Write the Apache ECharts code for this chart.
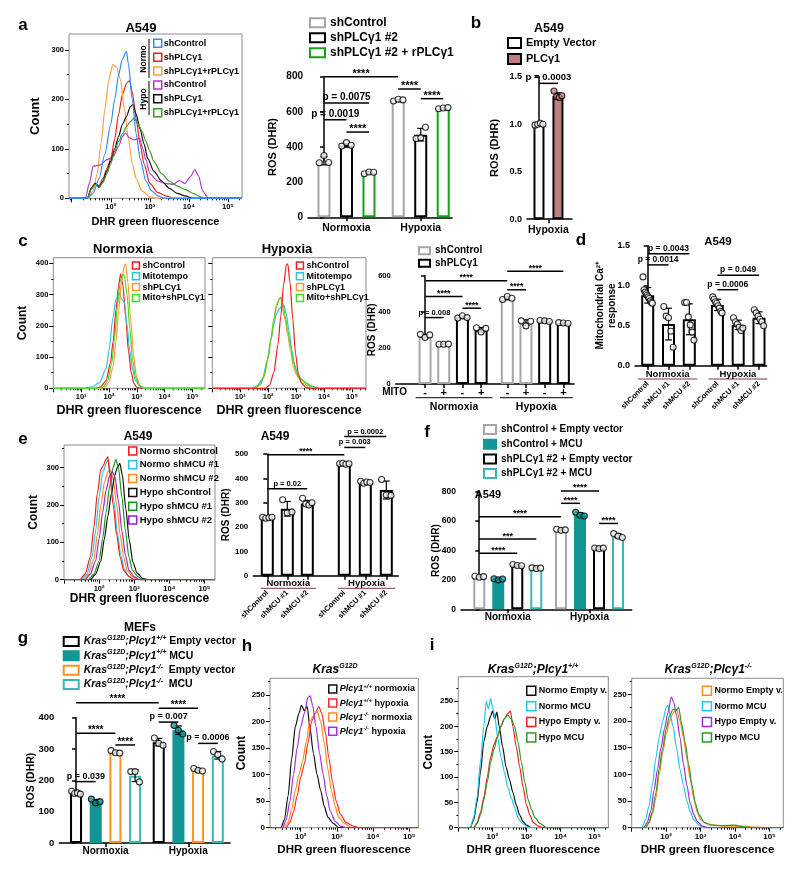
<!DOCTYPE html>
<html><head><meta charset="utf-8"><title>ROS figure</title>
<script src="https://cdn.jsdelivr.net/npm/echarts@6/dist/echarts.min.js"></script>
<style>html,body{margin:0;padding:0;background:#fff;}#chart{width:800px;height:873px;}</style>
</head><body><div id="chart"></div>
<script>
// ================= DATA =================
// Histograms: [log10(DHR fluorescence), count]
// panel a
const aH_n_shControl=[[0.93,0],[1.4,0],[1.55,10],[1.7,40],[1.85,90],[2.0,150],[2.1,200],[2.2,250],[2.3,282],[2.4,297],[2.45,272],[2.55,200],[2.65,130],[2.75,80],[2.9,35],[3.05,15],[3.2,5],[3.35,0],[5.36,0]];
const aH_n_shPLC=[[0.93,0],[1.4,0],[1.5,20],[1.6,30],[1.7,25],[1.8,40],[1.9,60],[2.0,80],[2.1,120],[2.2,170],[2.3,210],[2.4,232],[2.48,238],[2.55,215],[2.65,160],[2.75,110],[2.85,70],[3.0,30],[3.2,12],[3.4,5],[3.6,0],[5.36,0]];
const aH_n_rescue=[[0.93,0],[1.4,0],[1.55,15],[1.65,50],[1.75,110],[1.85,180],[1.95,240],[2.05,270],[2.15,265],[2.25,240],[2.35,180],[2.45,120],[2.55,70],[2.65,40],[2.8,15],[3.0,3],[3.2,0],[5.36,0]];
const aH_h_shControl=[[0.93,0],[1.35,0],[1.45,30],[1.55,65],[1.72,67],[1.9,78],[2.06,84],[2.2,105],[2.3,125],[2.38,132],[2.48,122],[2.6,118],[2.74,121],[2.82,100],[2.9,78],[3.0,50],[3.2,35],[3.4,30],[3.6,28],[3.75,36],[3.9,30],[4.05,45],[4.15,58],[4.25,45],[4.35,15],[4.5,0],[5.36,0]];
const aH_h_shPLC=[[0.93,0],[1.4,0],[1.5,20],[1.6,30],[1.7,22],[1.8,35],[1.9,55],[2.0,75],[2.1,100],[2.2,125],[2.3,150],[2.4,165],[2.5,185],[2.57,190],[2.65,170],[2.75,140],[2.85,110],[2.95,80],[3.1,55],[3.3,35],[3.5,20],[3.7,10],[3.9,5],[4.1,0],[5.36,0]];
const aH_h_rescue=[[0.93,0],[1.4,0],[1.5,18],[1.6,28],[1.7,22],[1.8,32],[1.9,50],[2.0,70],[2.1,95],[2.2,115],[2.3,130],[2.4,145],[2.5,155],[2.6,162],[2.7,150],[2.8,135],[2.9,115],[3.0,95],[3.1,75],[3.3,50],[3.5,35],[3.7,25],[3.9,18],[4.1,10],[4.3,3],[4.4,0],[5.36,0]];
// panel c
const cH_n_shControl=[[0,0],[1.5,0],[1.7,5],[1.9,25],[2.05,80],[2.15,150],[2.25,250],[2.35,330],[2.42,366],[2.5,330],[2.6,230],[2.7,120],[2.8,50],[2.9,15],[3.0,3],[3.2,0],[5.45,0]];
const cH_n_mito=[[0,0],[1.1,0],[1.4,5],[1.66,18],[1.9,64],[2.0,120],[2.14,224],[2.25,285],[2.38,305],[2.45,285],[2.56,275],[2.65,200],[2.75,120],[2.85,60],[2.95,25],[3.1,8],[3.3,0],[5.45,0]];
const cH_n_shPLC=[[0,0],[1.7,0],[1.85,5],[2.0,20],[2.15,70],[2.25,150],[2.35,250],[2.45,340],[2.55,390],[2.6,398],[2.68,340],[2.78,220],[2.88,110],[2.98,40],[3.1,10],[3.25,0],[5.45,0]];
const cH_n_mitoPLC=[[0,0],[1.6,0],[1.8,5],[1.95,25],[2.1,80],[2.2,160],[2.3,260],[2.4,340],[2.5,365],[2.55,360],[2.65,300],[2.75,190],[2.85,90],[2.95,35],[3.1,8],[3.25,0],[5.45,0]];
const cH_h_shControl=[[0,0],[1.9,0],[2.05,10],[2.2,50],[2.35,140],[2.45,230],[2.55,330],[2.65,395],[2.7,398],[2.78,340],[2.88,220],[2.98,110],[3.08,45],[3.2,15],[3.35,3],[3.5,0],[5.5,0]];
const cH_h_mito=[[0,0],[1.4,0],[1.6,8],[1.8,30],[1.95,85],[2.1,155],[2.2,205],[2.3,240],[2.4,255],[2.5,262],[2.56,267],[2.65,235],[2.75,180],[2.85,120],[2.95,75],[3.05,45],[3.2,28],[3.4,14],[3.6,6],[3.8,0],[5.5,0]];
const cH_h_shPLC=[[0,0],[1.5,0],[1.7,10],[1.85,35],[2.0,95],[2.1,155],[2.2,215],[2.3,262],[2.4,285],[2.45,290],[2.5,265],[2.6,220],[2.7,170],[2.8,120],[2.9,70],[3.0,45],[3.1,32],[3.2,20],[3.4,8],[3.6,0],[5.5,0]];
const cH_h_mitoPLC=[[0,0],[1.5,0],[1.7,10],[1.85,40],[2.0,100],[2.1,160],[2.2,220],[2.3,268],[2.4,288],[2.46,291],[2.52,275],[2.6,235],[2.7,185],[2.8,135],[2.9,85],[3.0,55],[3.1,35],[3.2,28],[3.35,18],[3.5,8],[3.7,0],[5.5,0]];
// panel e
const eH_n_shControl=[[1.0,0],[1.45,0],[1.6,15],[1.75,60],[1.85,140],[1.95,230],[2.05,295],[2.12,305],[2.2,322],[2.25,328],[2.3,285],[2.4,200],[2.5,120],[2.6,60],[2.7,25],[2.85,8],[3.0,0],[5.3,0]];
const eH_n_mcu1=[[1.0,0],[1.5,0],[1.65,15],[1.8,60],[1.9,130],[2.0,220],[2.1,285],[2.2,310],[2.25,320],[2.32,290],[2.42,210],[2.52,125],[2.62,65],[2.72,28],[2.85,8],[3.0,0],[5.3,0]];
const eH_n_mcu2=[[1.0,0],[1.55,0],[1.7,15],[1.85,55],[1.95,120],[2.05,200],[2.15,260],[2.25,288],[2.32,293],[2.4,270],[2.5,200],[2.6,120],[2.7,60],[2.8,25],[2.95,8],[3.1,0],[5.3,0]];
const eH_h_shControl=[[1.0,0],[1.75,0],[1.9,15],[2.05,50],[2.15,110],[2.25,170],[2.35,230],[2.45,280],[2.52,300],[2.59,311],[2.66,280],[2.76,190],[2.86,105],[2.96,48],[3.08,18],[3.25,3],[3.4,0],[5.3,0]];
const eH_h_mcu1=[[1.0,0],[1.7,0],[1.85,15],[2.0,50],[2.1,110],[2.2,180],[2.3,250],[2.4,300],[2.48,321],[2.55,300],[2.65,220],[2.75,130],[2.85,60],[2.95,25],[3.1,8],[3.25,0],[5.3,0]];
const eH_h_mcu2=[[1.0,0],[1.6,0],[1.75,15],[1.9,50],[2.0,110],[2.1,180],[2.2,240],[2.3,278],[2.38,289],[2.45,275],[2.55,210],[2.65,130],[2.75,65],[2.85,25],[3.0,8],[3.15,0],[5.3,0]];
// panel h
const hH_wt_norm=[[1.15,0],[1.45,0],[1.55,15],[1.65,60],[1.75,130],[1.85,190],[1.95,215],[2.02,230],[2.1,220],[2.18,228],[2.25,190],[2.35,140],[2.45,100],[2.55,70],[2.65,40],[2.75,20],[2.9,8],[3.05,0],[5.25,0]];
const hH_wt_hyp=[[1.15,0],[1.6,0],[1.7,10],[1.8,30],[1.9,60],[2.0,95],[2.1,120],[2.2,160],[2.3,200],[2.4,215],[2.5,228],[2.58,215],[2.68,180],[2.78,130],[2.88,85],[2.98,50],[3.1,25],[3.25,10],[3.45,3],[3.6,0],[5.25,0]];
const hH_ko_norm=[[1.15,0],[1.55,0],[1.65,10],[1.75,35],[1.85,70],[1.95,100],[2.05,125],[2.15,160],[2.25,200],[2.35,210],[2.45,220],[2.55,200],[2.65,160],[2.75,110],[2.85,70],[2.95,40],[3.05,20],[3.2,8],[3.4,0],[5.25,0]];
const hH_ko_hyp=[[1.15,0],[1.5,0],[1.6,15],[1.7,50],[1.8,100],[1.9,150],[2.0,190],[2.1,215],[2.2,245],[2.26,248],[2.33,230],[2.42,190],[2.52,140],[2.62,100],[2.72,60],[2.82,30],[2.95,12],[3.1,3],[3.25,0],[5.25,0]];
// panel i (left: Plcg1 +/+, right: Plcg1 -/-)
const iL_normEV=[[1.0,0],[1.35,0],[1.45,15],[1.55,50],[1.65,110],[1.75,170],[1.85,200],[1.95,220],[2.0,230],[2.07,215],[2.13,228],[2.2,200],[2.3,160],[2.4,120],[2.5,95],[2.6,70],[2.7,45],[2.8,25],[2.9,12],[3.0,5],[3.15,0],[5.4,0]];
const iL_normMCU=[[1.0,0],[1.35,0],[1.45,20],[1.55,60],[1.65,130],[1.75,200],[1.82,250],[1.88,235],[1.95,255],[2.0,240],[2.08,215],[2.15,180],[2.25,140],[2.35,110],[2.45,80],[2.55,60],[2.65,40],[2.75,20],[2.85,10],[3.0,3],[3.1,0],[5.4,0]];
const iL_hypEV=[[1.0,0],[1.45,0],[1.55,10],[1.65,30],[1.75,60],[1.85,100],[1.95,140],[2.05,165],[2.15,180],[2.25,200],[2.35,215],[2.45,225],[2.53,230],[2.6,200],[2.7,160],[2.8,120],[2.9,80],[3.0,45],[3.1,25],[3.2,10],[3.35,3],[3.5,0],[5.4,0]];
const iL_hypMCU=[[1.0,0],[1.45,0],[1.55,8],[1.65,25],[1.75,55],[1.85,90],[1.95,130],[2.05,155],[2.15,180],[2.25,200],[2.35,215],[2.45,222],[2.55,215],[2.65,200],[2.75,170],[2.85,130],[2.95,90],[3.05,55],[3.15,35],[3.25,20],[3.4,8],[3.6,0],[5.4,0]];
const iR_normEV=[[1.0,0],[1.4,0],[1.5,8],[1.6,25],[1.7,55],[1.8,100],[1.9,140],[2.0,175],[2.1,200],[2.2,215],[2.3,222],[2.4,200],[2.5,170],[2.6,130],[2.7,90],[2.8,55],[2.9,30],[3.0,15],[3.15,8],[3.4,5],[3.8,3],[4.2,3],[4.6,1],[5.0,0],[5.4,0]];
const iR_normMCU=[[1.0,0],[1.3,0],[1.4,15],[1.5,40],[1.6,80],[1.7,130],[1.8,170],[1.9,200],[2.0,225],[2.05,230],[2.12,210],[2.2,190],[2.3,150],[2.4,110],[2.5,80],[2.6,50],[2.7,30],[2.8,15],[2.95,5],[3.1,0],[5.4,0]];
const iR_hypEV=[[1.0,0],[1.35,0],[1.45,10],[1.55,30],[1.65,70],[1.75,110],[1.85,150],[1.95,185],[2.05,215],[2.15,245],[2.22,235],[2.3,210],[2.4,170],[2.5,120],[2.6,80],[2.7,45],[2.8,25],[2.9,12],[3.05,3],[3.2,0],[5.4,0]];
const iR_hypMCU=[[1.0,0],[1.4,0],[1.5,10],[1.6,30],[1.7,65],[1.8,110],[1.9,150],[2.0,185],[2.1,210],[2.2,222],[2.3,220],[2.36,226],[2.45,195],[2.55,160],[2.65,120],[2.75,80],[2.85,45],[2.95,25],[3.1,10],[3.3,5],[3.6,4],[4.0,5],[4.2,2],[4.5,0],[5.4,0]];

// Bar charts: means and individual points (per condition group)
const aB_groups=['Normoxia','Hypoxia'];
const aB_shControl_mean=[322,665], aB_shControl_dots=[[310,352,312],[662,672,668]];
const aB_shPLC_mean=[410,470],     aB_shPLC_dots=[[405,425,410],[448,452,512]];
const aB_rescue_mean=[255,620],    aB_rescue_dots=[[248,258,256],[618,622,624]];

const bB_groups=['Hypoxia'];
const bB_EV_mean=[1.0],  bB_EV_dots=[[0.99,1.0,1.01,1.0]];
const bB_PLC_mean=[1.3], bB_PLC_dots=[[1.35,1.29,1.28,1.3]];

const cB_mito=['-','+','-','+','-','+','-','+'];
const cB_groups=['Normoxia','Hypoxia'];
const cB_shControl_mean=[265,220,475,340], cB_shControl_dots=[[275,258,272],[220,220,221],[468,485,475],[350,322,348]];
const cB_shPLC_mean=[370,300,350,337],     cB_shPLC_dots=[[365,378,368],[312,288,308],[352,350,346],[340,338,335]];

const dB_labels=['shControl','shMCU #1','shMCU #2','shControl','shMCU #1','shMCU #2'];
const dB_groups=['Normoxia','Hypoxia'];
const dB_mean=[0.88,0.52,0.58,0.76,0.51,0.60];
const dB_dots=[[1.11,0.95,0.92,0.90,0.88,0.86,0.84,0.81,0.79,0.78],[0.74,0.62,0.60,0.43,0.23],[0.79,0.79,0.61,0.51,0.42,0.32],[0.86,0.83,0.80,0.78,0.75,0.72,0.68,0.66],[0.60,0.55,0.52,0.48,0.44,0.47],[0.70,0.66,0.62,0.58,0.55,0.50]];

const eB_labels=['shControl','shMCU #1','shMCU #2','shControl','shMCU #1','shMCU #2'];
const eB_groups=['Normoxia','Hypoxia'];
const eB_mean=[238,275,297,460,383,352];
const eB_dots=[[240,236,238,240],[312,258,262],[318,295,290,300],[460,462,458,460],[388,380,385,383],[395,332,330]];

const fB_groups=['Normoxia','Hypoxia'];
const fB_ctrlEV_mean=[222,540],  fB_ctrlEV_dots=[[225,218,222],[545,537,540]];
const fB_ctrlMCU_mean=[205,645], fB_ctrlMCU_dots=[[208,200,206],[660,640,635]];
const fB_plcEV_mean=[300,415],   fB_plcEV_dots=[[305,298,296],[417,413,416]];
const fB_plcMCU_mean=[280,500],  fB_plcMCU_dots=[[282,277,280],[515,498,488]];

const gB_groups=['Normoxia','Hypoxia'];
const gB_wtEV_mean=[160,322],  gB_wtEV_dots=[[165,158,160,156],[335,318,312]];
const gB_wtMCU_mean=[133,360], gB_wtMCU_dots=[[140,128,132],[375,360,348]];
const gB_koEV_mean=[290,233],  gB_koEV_dots=[[295,288,287],[238,232,230]];
const gB_koMCU_mean=[215,280], gB_koMCU_dots=[[228,228,195],[292,282,268]];

// Significance annotations: [from bar, to bar, y value, text] (bar = index into slot list)
const aSig=[[0,3,800,'****'],[0,2,650,'p = 0.0075'],[0,1,555,'p = 0.0019'],[1,2,485,'****'],[3,4,730,'****'],[4,5,675,'****']];
const bSig=[[0,1,1.43,'p = 0.0003']];
const cSig=[[0,4,572,'****'],[4,7,624,'****'],[0,2,485,'****'],[2,3,420,'****'],[0,1,368,'p = 0.008'],[4,5,522,'****']];
const dSig=[[0,2,1.40,'p = 0.0043'],[0,1,1.26,'p = 0.0014'],[3,5,1.13,'p = 0.049'],[3,4,0.95,'p = 0.0006']];
const eSig=[[0,3,497,'****'],[0,2,357,'p = 0.02'],[3,4,527,'p = 0.003'],[3,5,572,'p = 0.0002']];
const fSig=[[0,2,381,'****'],[0,3,478,'***'],[0,4,630,'****'],[4,5,721,'****'],[4,6,805,'****'],[6,7,584,'****']];
const gSig=[[0,4,448,'****'],[4,6,430,'****'],[4,5,386,'p = 0.007'],[0,2,350,'****'],[2,3,313,'****'],[6,7,318,'p = 0.0006'],[0,1,196,'p = 0.039']];

// ================= BUILD =================
const F='"Liberation Sans", Arial, Helvetica, sans-serif';
const SUP=['\u2070','\u00b9','\u00b2','\u00b3','\u2074','\u2075'];
const grids=[],xAxes=[],yAxes=[],series=[],legends=[],graphics=[];
const LABELS={};
function rich(sz){return {
  i:{fontFamily:F,fontWeight:'bold',fontStyle:'italic',fontSize:sz,lineHeight:sz+3,color:'#000'},
  s:{fontFamily:F,fontWeight:'bold',fontStyle:'italic',fontSize:Math.round(sz*0.62),lineHeight:Math.round(sz*0.62)+1,verticalAlign:'top',color:'#000'},
  n:{fontFamily:F,fontWeight:'bold',fontSize:sz,lineHeight:sz+3,color:'#000'}};}
function mean(a){return a.reduce((s,v)=>s+v,0)/a.length;}
function sd(a){const m=mean(a);return Math.sqrt(a.reduce((s,v)=>s+(v-m)*(v-m),0)/(a.length-1));}

function addLegend(p,items,iconStyle){
  items.forEach(c=>{LABELS[c.id]=c.label;});
  legends.push({orient:'vertical',left:p.leg[0],top:p.leg[1],itemGap:p.leg[2],itemWidth:p.leg[3],itemHeight:p.leg[4],
    icon:'rect',selectedMode:false,padding:0,
    data:items.map(c=>({name:c.id,itemStyle:iconStyle(c)})),
    formatter:n=>LABELS[n],
    textStyle:{fontFamily:F,fontWeight:'bold',fontSize:p.leg[5],color:'#000',padding:[0,0,0,p.leg[6]||0],rich:rich(p.leg[5])}});
}

function histPanel(p){
  const gi=grids.length;
  grids.push({left:p.box[0],top:p.box[1],width:p.box[2],height:p.box[3],show:true,borderColor:'#8c8c8c',borderWidth:1,backgroundColor:'transparent'});
  const majT=[0,1,2,3,4,5].filter(v=>v>=p.xr[0]&&v<=p.xr[1]);
  const minors=[];
  for(let d=0;d<6;d++)for(let k=2;k<10;k++){const v=d+Math.log10(k);if(v>p.xr[0]&&v<p.xr[1])minors.push(v);}
  const xi=xAxes.length;
  xAxes.push({type:'value',gridIndex:gi,position:'bottom',min:p.xr[0],max:p.xr[1],splitLine:{show:false},axisLine:{show:false},
    axisTick:{customValues:majT,length:4,lineStyle:{color:'#000',width:1}},
    axisLabel:{customValues:p.xl,formatter:v=>'10'+SUP[Math.round(v)],fontFamily:F,fontWeight:'bold',fontSize:p.tf,color:'#000',margin:5},
    name:'DHR green fluorescence',nameLocation:'middle',nameGap:p.xg,nameMoveOverlap:false,nameTextStyle:{fontFamily:F,fontWeight:'bold',fontSize:p.xs,color:'#000'}});
  xAxes.push({type:'value',gridIndex:gi,position:'bottom',min:p.xr[0],max:p.xr[1],splitLine:{show:false},axisLine:{show:false},
    axisLabel:{show:false},axisTick:{customValues:minors,length:2,lineStyle:{color:'#000',width:1}}});
  const yi=yAxes.length;
  yAxes.push({type:'value',gridIndex:gi,position:'left',min:0,max:p.ymax,splitLine:{show:false},axisLine:{show:false},
    axisTick:{customValues:p.yt,length:4,lineStyle:{color:'#000'}},
    axisLabel:{show:p.yl!==false,customValues:p.yt,fontFamily:F,fontWeight:'bold',fontSize:p.tf,color:'#000',margin:5},
    name:p.yn||'',nameLocation:'middle',nameGap:p.yg||20,nameMoveOverlap:false,nameTextStyle:{fontFamily:F,fontWeight:'bold',fontSize:p.ys||12,color:'#000'}});
  const step=p.yt[1]-p.yt[0], ym=[];
  p.yt.forEach(v=>{if(v+step/2<p.ymax)ym.push(v+step/2);});
  yAxes.push({type:'value',gridIndex:gi,position:'left',min:0,max:p.ymax,splitLine:{show:false},axisLine:{show:false},
    axisLabel:{show:false},axisTick:{customValues:ym,length:2,lineStyle:{color:'#000'}}});
  p.curves.forEach(c=>{
    series.push({type:'line',name:c.id,xAxisIndex:xi,yAxisIndex:yi,data:c.data,symbol:'none',showSymbol:false,smooth:0.25,smoothMonotone:'x',
      lineStyle:{color:c.color,width:1.2},itemStyle:{color:c.color},z:2+(c.z||0),silent:true,animation:false});
  });
  addLegend(p,p.curves,c=>({color:'#fff',borderColor:c.color,borderWidth:1.5}));
}

function barPanel(p){
  const gi=grids.length;
  grids.push({left:p.box[0],top:p.box[1],width:p.box[2],height:p.box[3]});
  const xi=xAxes.length, yi=yAxes.length;
  const unit=p.box[2]/(p.xr[1]-p.xr[0]);
  xAxes.push({type:'value',gridIndex:gi,position:'bottom',min:p.xr[0],max:p.xr[1],splitLine:{show:false},
    axisLine:{show:true,onZero:false,lineStyle:{color:'#000',width:1.5}},
    axisTick:{customValues:p.xt.v,length:4,lineStyle:{color:'#000',width:1.5}},
    axisLabel:{customValues:p.xt.v,formatter:v=>{let b=0;p.xt.v.forEach((c,k)=>{if(Math.abs(c-v)<Math.abs(p.xt.v[b]-v))b=k;});return p.xt.l[b];},
      rotate:p.xt.r||0,margin:p.xt.m,fontFamily:F,fontWeight:'bold',fontSize:p.xt.s,color:'#000'}});
  yAxes.push({type:'value',gridIndex:gi,position:'left',min:p.yr[0],max:p.yr[1],interval:p.yr[2],splitLine:{show:false},
    axisLine:{show:true,lineStyle:{color:'#000',width:1.5}},axisTick:{show:true,length:4,lineStyle:{color:'#000',width:1.5}},
    axisLabel:{fontFamily:F,fontWeight:'bold',fontSize:p.tf,color:'#000',margin:5,formatter:p.yf||(v=>String(v))},
    name:p.yn,nameLocation:'middle',nameGap:p.yg,nameMoveOverlap:false,nameTextStyle:{fontFamily:F,fontWeight:'bold',fontSize:p.ys,color:'#000',lineHeight:p.ys+2}});
  p.groups.forEach(g=>{
    series.push({type:'bar',name:g.id,xAxisIndex:xi,yAxisIndex:yi,barWidth:p.bw,barGap:'-100%',
      data:g.pos.map((x,i)=>[x,g.mean[i]]),itemStyle:{color:g.fill,borderColor:g.color,borderWidth:2},z:2,silent:true,animation:false});
    const eb=g.pos.map((x,i)=>{const s=sd(g.dots[i]);return [x,g.mean[i]-s,g.mean[i]+s];});
    series.push({type:'custom',xAxisIndex:xi,yAxisIndex:yi,data:eb,z:3,silent:true,clip:false,animation:false,
      renderItem:(pa,api)=>{const a=api.coord([api.value(0),api.value(1)]),b=api.coord([api.value(0),api.value(2)]);
        return {type:'group',children:[
          {type:'line',shape:{x1:a[0],y1:a[1],x2:b[0],y2:b[1]},style:{stroke:'#000',lineWidth:1.2}},
          {type:'line',shape:{x1:b[0]-3.5,y1:b[1],x2:b[0]+3.5,y2:b[1]},style:{stroke:'#000',lineWidth:1.2}},
          {type:'line',shape:{x1:a[0]-3.5,y1:a[1],x2:a[0]+3.5,y2:a[1]},style:{stroke:'#000',lineWidth:1.2}}]};}});
    const spread=(p.bw*0.36)/unit, pts=[];
    g.pos.forEach((x,i)=>{const d=g.dots[i];d.forEach((v,j)=>pts.push([x+(d.length>1?-spread+2*spread*j/(d.length-1):0),v]));});
    series.push({type:'scatter',xAxisIndex:xi,yAxisIndex:yi,data:pts,symbol:'circle',symbolSize:p.ds||6,
      itemStyle:{color:g.fill,borderColor:'#000',borderWidth:1.1},z:4,silent:true,animation:false});
  });
  if(p.sig){
    series.push({type:'custom',xAxisIndex:xi,yAxisIndex:yi,data:p.sig.map(s=>[p.slots[s[0]],s[2],p.slots[s[1]]]),clip:false,z:5,silent:true,animation:false,
      renderItem:(pa,api)=>{const s=p.sig[pa.dataIndex];const a=api.coord([p.slots[s[0]],s[2]]),b=api.coord([p.slots[s[1]],s[2]]);
        const star=s[3].charAt(0)==='*';
        return {type:'group',children:[
          {type:'line',shape:{x1:a[0],y1:a[1],x2:b[0],y2:b[1]},style:{stroke:'#000',lineWidth:1.5}},
          {type:'text',x:(a[0]+b[0])/2,y:star?a[1]-3:a[1]-1,style:{text:s[3],fontFamily:F,fontWeight:'bold',fontSize:star?p.sf+1:p.sf,fill:'#000',align:'center',verticalAlign:star?'middle':'bottom'}}]};}});
  }
  if(p.under){
    series.push({type:'custom',xAxisIndex:xi,yAxisIndex:yi,data:p.under.map(u=>[u[0],p.yr[0],u[1]]),clip:false,z:5,silent:true,animation:false,
      renderItem:(pa,api)=>{const u=p.under[pa.dataIndex];const a=api.coord([u[0],p.yr[0]]),b=api.coord([u[1],p.yr[0]]);
        return {type:'group',children:[
          {type:'line',shape:{x1:a[0],y1:a[1]+p.uy[0],x2:b[0],y2:b[1]+p.uy[0]},style:{stroke:p.uc||'#000',lineWidth:1}},
          {type:'text',x:(a[0]+b[0])/2,y:a[1]+p.uy[1],style:{text:u[2],fontFamily:F,fontWeight:'bold',fontSize:p.us,fill:'#000',align:'center',verticalAlign:'middle'}}]};}});
  }
  if(p.leg) addLegend(p,p.groups,g=>({color:g.fill,borderColor:g.color,borderWidth:2}));
}

// ---------- colours ----------
const C={blue:'#2b8cff',red:'#f41c1c',orange:'#ffa040',purple:'#b23cc8',black:'#111111',green:'#2e9a2e',
  cyan:'#2fc2dc',lgreen:'#44dd22',gray:'#a6a6a6',barGreen:'#19a019',rose:'#bd7f7f',teal:'#129595',tealB:'#3bb5b5',bOrange:'#f7941d'};

// ---------- panel a histogram ----------
histPanel({box:[69,34,173,164.3],xr:[0.93,5.36],ymax:332,yt:[0,100,200,300],xl:[2,3,4,5],tf:7.5,
  yn:'Count',yg:27,ys:13,xg:18,xs:11,leg:[153,38.5,4.4,8,8,9,-3],
  curves:[
    {id:'aH1',label:'shControl',color:C.blue,data:aH_n_shControl,z:1},
    {id:'aH2',label:'shPLC\u03b31',color:C.red,data:aH_n_shPLC},
    {id:'aH3',label:'shPLC\u03b31+rPLC\u03b31',color:C.orange,data:aH_n_rescue},
    {id:'aH4',label:'shControl',color:C.purple,data:aH_h_shControl},
    {id:'aH5',label:'shPLC\u03b31',color:C.black,data:aH_h_shPLC},
    {id:'aH6',label:'shPLC\u03b31+rPLC\u03b31',color:'#3c9a28',data:aH_h_rescue}]});

// ---------- panel a bars ----------
const aSlots=[0,1,2,3.3,4.3,5.3];
barPanel({box:[308,76.7,144,140.6],xr:[-0.71,5.69],yr:[0,800,200],tf:10,yn:'ROS (DHR)',yg:29,ys:11,bw:13,sf:10,
  slots:aSlots,sig:aSig,
  xt:{v:[1,4.3],l:aB_groups,s:10.5,m:5},
  leg:[309,16.7,3,15,9,12],
  groups:[
    {id:'aB1',label:'shControl',color:C.gray,fill:'#fff',pos:[aSlots[0],aSlots[3]],mean:aB_shControl_mean,dots:aB_shControl_dots},
    {id:'aB2',label:'shPLC\u03b31 #2',color:'#000',fill:'#fff',pos:[aSlots[1],aSlots[4]],mean:aB_shPLC_mean,dots:aB_shPLC_dots},
    {id:'aB3',label:'shPLC\u03b31 #2 + rPLC\u03b31',color:C.barGreen,fill:'#fff',pos:[aSlots[2],aSlots[5]],mean:aB_rescue_mean,dots:aB_rescue_dots}]});

// ---------- panel b ----------
const bSlots=[0,1];
barPanel({box:[527,76.7,45,142.5],xr:[-0.63,1.74],yr:[0,1.5,0.5],tf:9,yf:v=>v.toFixed(1),yn:'ROS (DHR)',yg:26,ys:11,bw:11,sf:9.5,
  slots:bSlots,sig:bSig,
  xt:{v:[0.5],l:bB_groups,s:10.5,m:5},
  leg:[507,37,4,13,10,11],
  groups:[
    {id:'bB1',label:'Empty Vector',color:'#000',fill:'#fff',pos:[bSlots[0]],mean:bB_EV_mean,dots:bB_EV_dots},
    {id:'bB2',label:'PLC\u03b31',color:'#000',fill:C.rose,pos:[bSlots[1]],mean:bB_PLC_mean,dots:bB_PLC_dots}]});

// ---------- panel c histograms ----------
histPanel({box:[53.3,257.7,151.7,130.6],xr:[0,5.45],ymax:418,yt:[0,100,200,300,400],xl:[1,2,3,4,5],tf:7.5,
  yn:'Count',yg:25,ys:12,xg:15.5,xs:12.5,leg:[131.7,261,1.8,7,7,9,-2],
  curves:[
    {id:'cN1',label:'shControl',color:C.red,data:cH_n_shControl},
    {id:'cN2',label:'Mitotempo',color:C.cyan,data:cH_n_mito},
    {id:'cN3',label:'shPLC\u03b31',color:'#ff9a30',data:cH_n_shPLC},
    {id:'cN4',label:'Mito+shPLC\u03b31',color:C.lgreen,data:cH_n_mitoPLC}]});
histPanel({box:[212.3,257.7,153.7,130.6],xr:[0,5.5],ymax:418,yt:[0,100,200,300,400],xl:[1,2,3,4,5],tf:7.5,yl:false,
  xg:15.5,xs:12.5,leg:[295.7,261,1.8,7,7,9,-2],
  curves:[
    {id:'cH1',label:'shControl',color:C.red,data:cH_h_shControl,z:1},
    {id:'cH2',label:'Mitotempo',color:C.cyan,data:cH_h_mito},
    {id:'cH3',label:'shPLC\u03b31',color:'#ff9a30',data:cH_h_shPLC},
    {id:'cH4',label:'Mito+shPLC\u03b31',color:C.lgreen,data:cH_h_mitoPLC}]});

// ---------- panel c bars ----------
const cSlots=[0,1,2,3,4.4,5.4,6.4,7.4];
barPanel({box:[395.7,275.7,178.3,108.3],xr:[-1.57,7.97],yr:[0,600,200],tf:7.5,yn:'ROS (DHR)',yg:17,ys:10,bw:13,sf:7.5,
  slots:cSlots,sig:cSig,
  xt:{v:cSlots,l:cB_mito,s:11,m:3},
  under:[[-0.5,3.6,cB_groups[0]],[4.0,7.9,cB_groups[1]]],uy:[13.7,22.7],us:10.5,
  leg:[418,245.7,2.6,11,7,10],
  groups:[
    {id:'cB1',label:'shControl',color:C.gray,fill:'#fff',pos:[cSlots[0],cSlots[1],cSlots[4],cSlots[5]],mean:cB_shControl_mean,dots:cB_shControl_dots},
    {id:'cB2',label:'shPLC\u03b31',color:'#000',fill:'#fff',pos:[cSlots[2],cSlots[3],cSlots[6],cSlots[7]],mean:cB_shPLC_mean,dots:cB_shPLC_dots}]});

// ---------- panel d ----------
const dSlots=[0,1,2,3.35,4.35,5.35];
barPanel({box:[635,245.7,131.7,120],xr:[-0.61,5.72],yr:[0,1.5,0.5],tf:9,yf:v=>v.toFixed(1),yn:'Mitochondrial Ca\u00b2\u207a\nresponse',yg:17,ys:10,bw:13,sf:8.5,ds:6,
  slots:dSlots,sig:dSig,
  xt:{v:dSlots,l:dB_labels,s:7.5,m:17,r:45},
  under:[[-0.47,2.39,dB_groups[0]],[2.92,5.75,dB_groups[1]]],uy:[13.3,8.6],us:9.5,uc:'#7a3b3b',
  groups:[{id:'dB1',label:'',color:'#000',fill:'#fff',pos:dSlots,mean:dB_mean,dots:dB_dots}]});

// ---------- panel e histogram ----------
histPanel({box:[64,445,151,134.7],xr:[1.0,5.3],ymax:360,yt:[0,100,200,300],xl:[2,3,4,5],tf:7.5,
  yn:'Count',yg:24,ys:12,xg:12.5,xs:12,leg:[128,446,3.8,8,8,9.5,-2],
  curves:[
    {id:'eH1',label:'Normo shControl',color:C.red,data:eH_n_shControl,z:1},
    {id:'eH2',label:'Normo shMCU #1',color:'#28c8e8',data:eH_n_mcu1},
    {id:'eH3',label:'Normo shMCU #2',color:'#ff8a20',data:eH_n_mcu2},
    {id:'eH4',label:'Hypo shControl',color:C.black,data:eH_h_shControl},
    {id:'eH5',label:'Hypo shMCU #1',color:'#1a9a1a',data:eH_h_mcu1},
    {id:'eH6',label:'Hypo shMCU #2',color:'#a020d0',data:eH_h_mcu2}]});

// ---------- panel e bars ----------
const eSlots=[0,1,2,3.85,4.9,5.95];
barPanel({box:[253.3,454,145,121.7],xr:[-0.7,6.55],yr:[0,500,100],tf:8,yn:'ROS (DHR)',yg:21,ys:10,bw:13,sf:7.5,
  slots:eSlots,sig:eSig,
  xt:{v:eSlots,l:eB_labels,s:7.5,m:16,r:45},
  under:[[-0.33,2.43,eB_groups[0]],[3.53,6.4,eB_groups[1]]],uy:[12.6,7.3],us:9.5,uc:'#7a3b3b',
  groups:[{id:'eB1',label:'',color:'#000',fill:'#fff',pos:eSlots,mean:eB_mean,dots:eB_dots}]});

// ---------- panel f ----------
const fSlots=[0,1,2,3,4.3,5.3,6.3,7.3];
barPanel({box:[461,491.7,170.7,117.6],xr:[-0.96,8.02],yr:[0,800,200],tf:8.5,yn:'ROS (DHR)',yg:19,ys:10,bw:12,sf:8,
  slots:fSlots,sig:fSig,
  xt:{v:[1.5,5.8],l:fB_groups,s:10,m:3},
  leg:[483,424,3.7,12,9,10],
  groups:[
    {id:'fB1',label:'shControl + Empty vector',color:C.gray,fill:'#fff',pos:[fSlots[0],fSlots[4]],mean:fB_ctrlEV_mean,dots:fB_ctrlEV_dots},
    {id:'fB2',label:'shControl + MCU',color:C.teal,fill:C.teal,pos:[fSlots[1],fSlots[5]],mean:fB_ctrlMCU_mean,dots:fB_ctrlMCU_dots},
    {id:'fB3',label:'shPLC\u03b31 #2 + Empty vector',color:'#000',fill:'#fff',pos:[fSlots[2],fSlots[6]],mean:fB_plcEV_mean,dots:fB_plcEV_dots},
    {id:'fB4',label:'shPLC\u03b31 #2 + MCU',color:C.tealB,fill:'#fff',pos:[fSlots[3],fSlots[7]],mean:fB_plcMCU_mean,dots:fB_plcMCU_dots}]});

// ---------- panel g ----------
const gSlots=[0,1,2,3,4.2,5.2,6.2,7.2];
barPanel({box:[59.3,717.7,170.7,125.3],xr:[-0.85,7.82],yr:[0,400,100],tf:9.5,yn:'ROS (DHR)',yg:22,ys:10.5,bw:12,sf:9,
  slots:gSlots,sig:gSig,
  xt:{v:[1.5,5.7],l:gB_groups,s:10,m:3},
  leg:[62.7,634.7,2.1,15,9,10.5],
  groups:[
    {id:'gB1',label:'{i|Kras}{s|G12D}{i|;Plc\u03b31}{s|+/+}{n| Empty vector}',color:'#000',fill:'#fff',pos:[gSlots[0],gSlots[4]],mean:gB_wtEV_mean,dots:gB_wtEV_dots},
    {id:'gB2',label:'{i|Kras}{s|G12D}{i|;Plc\u03b31}{s|+/+}{n| MCU}',color:C.teal,fill:C.teal,pos:[gSlots[1],gSlots[5]],mean:gB_wtMCU_mean,dots:gB_wtMCU_dots},
    {id:'gB3',label:'{i|Kras}{s|G12D}{i|;Plc\u03b31}{s|-/-}{n|  Empty vector}',color:C.bOrange,fill:'#fff',pos:[gSlots[2],gSlots[6]],mean:gB_koEV_mean,dots:gB_koEV_dots},
    {id:'gB4',label:'{i|Kras}{s|G12D}{i|;Plc\u03b31}{s|-/-}{n|  MCU}',color:C.tealB,fill:'#fff',pos:[gSlots[3],gSlots[7]],mean:gB_koMCU_mean,dots:gB_koMCU_dots}]});

// ---------- panel h ----------
histPanel({box:[270,678.3,148.3,149.4],xr:[1.15,5.25],ymax:281,yt:[0,50,100,150,200,250],xl:[2,3,4,5],tf:8,
  yn:'Count',yg:22,ys:12,xg:16,xs:11.5,leg:[328,683,3.3,8,8,9,-2],
  curves:[
    {id:'hH1',label:'{i|Plc\u03b31}{s|+/+}{n| normoxia}',color:C.black,data:hH_wt_norm},
    {id:'hH2',label:'{i|Plc\u03b31}{s|+/+}{n| hypoxia}',color:'#ff2a2a',data:hH_wt_hyp},
    {id:'hH3',label:'{i|Plc\u03b31}{s|-/-}{n| normoxia}',color:'#ff8c1a',data:hH_ko_norm},
    {id:'hH4',label:'{i|Plc\u03b31}{s|-/-}{n| hypoxia}',color:'#a030e0',data:hH_ko_hyp}]});

// ---------- panel i ----------
histPanel({box:[458.3,676.7,150,151],xr:[1.0,5.4],ymax:298,yt:[0,50,100,150,200,250],xl:[2,3,4,5],tf:8,
  yn:'Count',yg:24,ys:12,xg:16,xs:11.5,leg:[526,685.5,5.1,9,9,9,-2],
  curves:[
    {id:'iL1',label:'Normo Empty v.',color:C.black,data:iL_normEV},
    {id:'iL2',label:'Normo MCU',color:'#1ec8f0',data:iL_normMCU},
    {id:'iL3',label:'Hypo Empty v.',color:'#f02020',data:iL_hypEV},
    {id:'iL4',label:'Hypo MCU',color:'#2a9a2a',data:iL_hypMCU}]});
histPanel({box:[631.7,678.3,151.6,149.4],xr:[1.0,5.4],ymax:280,yt:[0,50,100,150,200,250],xl:[2,3,4,5],tf:8,
  xg:16,xs:11.5,leg:[701.7,685.5,5.1,9,9,9,-2],
  curves:[
    {id:'iR1',label:'Normo Empty v.',color:'#ff8c1a',data:iR_normEV},
    {id:'iR2',label:'Normo MCU',color:'#1ec8f0',data:iR_normMCU},
    {id:'iR3',label:'Hypo Empty v.',color:'#9a30d0',data:iR_hypEV},
    {id:'iR4',label:'Hypo MCU',color:'#2a9a2a',data:iR_hypMCU}]});

// ---------- text decorations ----------
function T(x,y,text,size,extra){graphics.push(Object.assign({type:'text',x:x,y:y,z:100,silent:true,
  style:{text:text,fontFamily:F,fontWeight:'bold',fontSize:size,fill:'#000',align:'center',verticalAlign:'middle',textAlign:'center',textVerticalAlign:'middle',rich:rich(size)}},extra||{}));}
function L(x1,y1,x2,y2,w){graphics.push({type:'line',z:100,silent:true,shape:{x1,y1,x2,y2},style:{stroke:'#000',lineWidth:w||1}});}
[['a',23,25],['b',476,23],['c',23,241],['d',581,240],['e',23,439],['f',427,432],['g',23,638],['h',247,646],['i',432,645]].forEach(t=>T(t[1],t[2],t[0],17));
T(141,28,'A549',13); T(549,29,'A549',12.5);
T(123,249,'Normoxia',13); T(287,249,'Hypoxia',13);
T(718,242,'A549',11.5); T(138,437,'A549',12); T(275,437,'A549',12);
T(488,495,'A549',11); T(140,628,'MEFs',12);
T(335,670,'{i|Kras}{s|G12D}',12); T(533,670,'{i|Kras}{s|G12D}{i|;Plc\u03b31}{s|+/+}',12); T(708,670,'{i|Kras}{s|G12D}{i|;Plc\u03b31}{s|-/-}',12);
T(144,59,'Normo',8.5,{rotation:Math.PI/2}); L(149,39,149,78,1);
T(144,99,'Hypo',8.5,{rotation:Math.PI/2}); L(149,81,149,115,1);
graphics.push({type:'text',x:407,y:392,z:100,silent:true,style:{text:'MITO',fontFamily:F,fontWeight:'bold',fontSize:10,fill:'#000',align:'right',verticalAlign:'middle',textAlign:'right',textVerticalAlign:'middle'}});

const chart=echarts.init(document.getElementById('chart'),null,{renderer:'canvas',width:800,height:873});
chart.setOption({backgroundColor:'#fff',animation:false,textStyle:{fontFamily:F},
  grid:grids,xAxis:xAxes,yAxis:yAxes,series:series,legend:legends,graphic:graphics});
</script></body></html>
